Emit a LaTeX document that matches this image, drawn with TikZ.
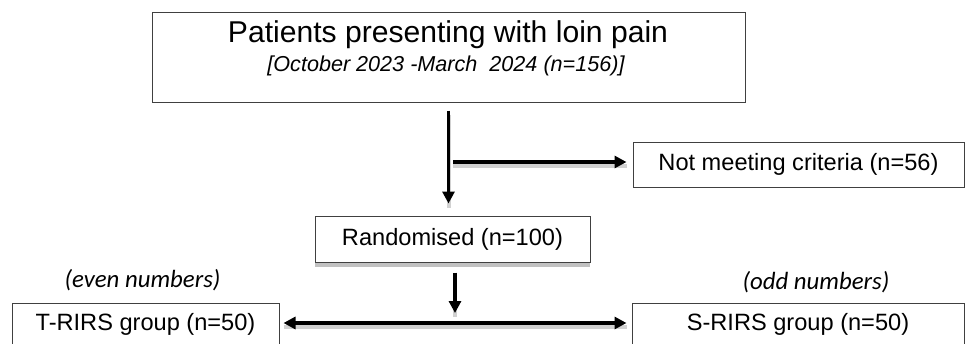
\documentclass[tikz,border=0pt]{standalone}
\usepackage{fontspec}
\setmainfont{Liberation Sans}
\newfontfamily\notefont{Carlito}
\usepackage{tikz}
\usetikzlibrary{arrows.meta}
\usetikzlibrary{shadows}
\tikzstyle{FlowBox}=[draw=black!75,line width=1pt,fill=white,inner sep=0pt,
font=\fontsize{23.6}{28}\selectfont]
\tikzstyle{NoteText}=[inner sep=0pt,font=\notefont\itshape\fontsize{24.8}{30}\selectfont]
\tikzstyle{FlowArrow}=[line width=3.5pt,>={Triangle[length=12pt,width=12pt]},
preaction={draw=black!18,line width=4pt,arrows=-,transform canvas={yshift=-4pt}}]
\tikzstyle{BoxShadow}=[drop shadow={shadow xshift=0pt,shadow yshift=-5pt,opacity=0.35,fill=black!70}]
\begin{document}
\begin{tikzpicture}[x=1pt,y=-1pt]
        \clip(0,0)rectangle(967,343);
        \node[FlowBox,minimum width=593pt,minimum height=90pt](title)at(448.5,57){};
        \node[inner sep=0pt,font=\fontsize{30.1}{36}\selectfont](titleA)at(448,35){Patients presenting with loin pain};
        \node[inner sep=0pt,font=\itshape\fontsize{21.6}{26}\selectfont](titleB)at(446,66){[October 2023 -March~ 2024 (n=156)]};
        \node[FlowBox,minimum width=331pt,minimum height=45pt](nomeet)at(798.5,164.5){Not meeting criteria (n=56)};
        \node[FlowBox,BoxShadow,minimum width=275pt,minimum height=46pt](rand)at(452.5,239){Randomised (n=100)};
        \node[NoteText](even)at(142.5,280){(even numbers)};
        \node[NoteText](odd)at(816,282){(odd numbers)};
        \node[FlowBox,minimum width=267pt,minimum height=42pt](trirs)at(145.5,324){T-RIRS group (n=50)};
        \node[FlowBox,minimum width=332pt,minimum height=42pt](srirs)at(798,324){S-RIRS group (n=50)};
        \coordinate(split)at(453,162);
        \coordinate(fork)at(455,323);
        \draw[FlowArrow,->,shorten <=8pt,shorten >=12pt](title.south)--(title.south|-rand.north);
        \draw[FlowArrow,->,shorten >=6pt](split)--(split-|nomeet.west);
        \draw[FlowArrow,->,shorten <=10pt,shorten >=10pt](rand.south-|fork)--(fork);
        \draw[FlowArrow,<->,shorten <=4pt,shorten >=5pt](trirs.east|-fork)--(srirs.west|-fork);
    \end{tikzpicture}
\end{document}
